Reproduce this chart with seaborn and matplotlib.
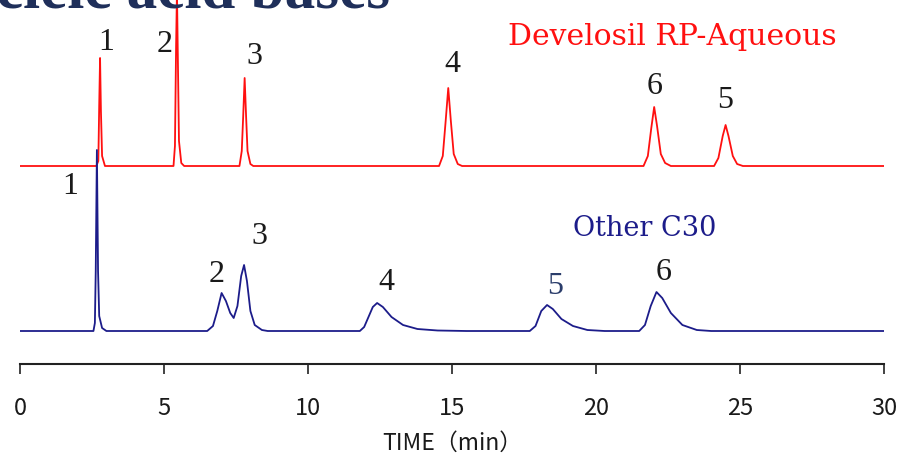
import numpy as np
import matplotlib
matplotlib.use("Agg")
import matplotlib.pyplot as plt
import seaborn as sns

# Develosil RP-Aqueous trace (time in min, detector response)
red_time = [0, 2.65, 2.72, 2.75, 2.78, 2.81, 2.85, 2.95,
            5.33, 5.38, 5.42, 5.45, 5.48, 5.52, 5.6, 5.7,
            7.62, 7.7, 7.75, 7.8, 7.85, 7.9, 8.0, 8.1,
            14.55, 14.68, 14.78, 14.87, 14.96, 15.06, 15.2, 15.35,
            21.65, 21.8, 21.92, 22.02, 22.12, 22.25, 22.4, 22.6,
            24.1, 24.25, 24.4, 24.5, 24.6, 24.75, 24.9, 25.1, 30]
red_signal = [0, 0, 5, 60, 108, 55, 10, 0,
              0, 20, 120, 175, 110, 25, 3, 0,
              0, 15, 50, 88, 50, 15, 2, 0,
              0, 10, 45, 78, 45, 12, 2, 0,
              0, 10, 38, 59, 40, 12, 3, 0,
              0, 8, 30, 41, 30, 10, 2, 0, 0]

# Other C30 trace
navy_time = [0, 2.55, 2.6, 2.63, 2.67, 2.71, 2.75, 2.85, 3.0,
             6.5, 6.7, 6.85, 7.0, 7.15, 7.3, 7.42, 7.55, 7.68, 7.78, 7.88, 8.0, 8.15, 8.4, 8.6,
             11.8, 11.95, 12.1, 12.25, 12.4, 12.6, 12.9, 13.3, 13.8, 14.5, 15.5,
             17.7, 17.9, 18.1, 18.3, 18.5, 18.8, 19.2, 19.7, 20.3,
             21.5, 21.7, 21.9, 22.1, 22.3, 22.6, 23.0, 23.5, 24.0, 30]
navy_signal = [0, 0, 8, 60, 181, 60, 15, 3, 0,
               0, 5, 20, 38, 30, 18, 13, 25, 55, 66, 50, 20, 6, 1, 0,
               0, 4, 14, 24, 28, 24, 14, 6, 2, 0.5, 0,
               0, 5, 20, 26, 22, 12, 5, 1, 0,
               0, 6, 25, 39, 33, 18, 6, 1, 0, 0]

red_offset = 165

red_peak_names = ["1", "2", "3", "4", "6", "5"]
red_label_x = [2.99, 5.03, 8.13, 15.03, 22.05, 24.48]
red_label_y = [289, 286, 275, 267, 244, 231]

navy_peak_names = ["1", "2", "3", "4", "5", "6"]
navy_label_x = [1.74, 6.84, 8.33, 12.71, 18.58, 22.36]
navy_label_y = [145, 56, 95, 49, 44, 59]

x_ticks = [0, 5, 10, 15, 20, 25, 30]

sns.set_style("white")

fig = plt.figure(figsize=(9, 4.57), dpi=100)
ax = fig.add_axes([20 / 900, 93 / 457, 864 / 900, 364 / 457])

sns.lineplot(x=red_time, y=np.array(red_signal) + red_offset, ax=ax,
             color="#ff1010", lw=1.3, sort=False)
sns.lineplot(x=navy_time, y=navy_signal, ax=ax,
             color="#1c1c8a", lw=1.3, sort=False)

serif = "Liberation Serif"
for name, x, y in zip(red_peak_names, red_label_x, red_label_y):
    ax.text(x, y, name, ha="center", va="center", fontsize=23,
            family=serif, color="#1a1a1a")
for name, x, y in zip(navy_peak_names, navy_label_x, navy_label_y):
    c = "#2b3d6b" if name == "5" else "#1a1a1a"
    ax.text(x, y, name, ha="center", va="center", fontsize=23,
            family=serif, color=c)

ax.text(22.64, 294, "Develosil RP-Aqueous", ha="center", va="center",
        fontsize=21.5, family="DejaVu Serif", color="#ff1010")
ax.text(21.7, 103, "Other C30", ha="center", va="center",
        fontsize=19.5, family="DejaVu Serif", color="#1c1c8a")

ax.set_xlim(0, 30)
ax.set_ylim(-33, 331)
ax.set_xticks(x_ticks)
ax.set_yticks([])
for s in ["left", "top", "right"]:
    ax.spines[s].set_visible(False)
ax.spines["bottom"].set_color("#222222")
ax.spines["bottom"].set_linewidth(1.5)
ax.tick_params(axis="x", direction="out", length=7, width=1.2,
               color="#222222", pad=17, labelsize=17, labelcolor="#1a1a1a",
               bottom=True)
for lbl in ax.get_xticklabels():
    lbl.set_family(["Noto Sans CJK JP", "DejaVu Sans"])
ax.set_xlabel("TIME（min）", fontsize=16.5, family=["Noto Sans CJK JP", "DejaVu Sans"],
              color="#1a1a1a", labelpad=8)

fig.text(-0.005, 1 - 8 / 457, "cleic acid bases", ha="left", va="baseline",
         fontsize=44, fontweight="bold", family=serif, color="#1f2f5a")

fig.savefig("out.png", dpi=100)
